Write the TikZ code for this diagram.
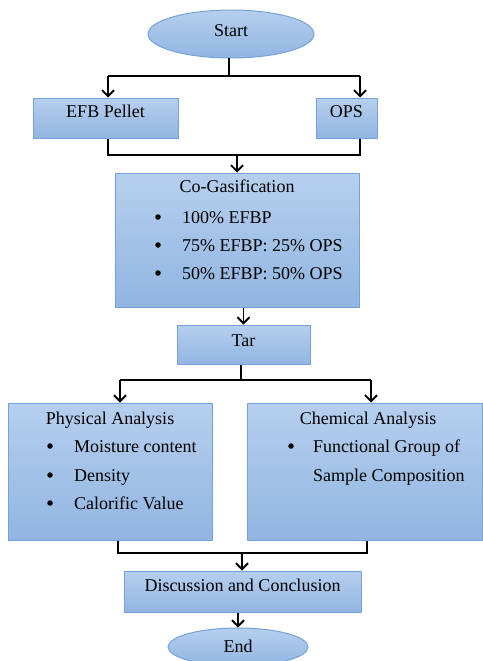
\documentclass[tikz,border=0pt]{standalone}
\usepackage{fontspec}
\setmainfont{Liberation Serif}
\usetikzlibrary{shapes.geometric,arrows.meta}
\definecolor{boxtop}{HTML}{B6CFEE}
\definecolor{boxbot}{HTML}{91B5E1}
\definecolor{boxline}{HTML}{74A3DA}
\tikzset{
  box/.style={draw=boxline, line width=1pt, top color=boxtop, bottom color=boxbot, inner sep=0pt},
  oval/.style={box, ellipse},
  txt/.style={inner sep=0pt, anchor=base, font=\fontsize{18}{21}\selectfont, text=black},
  item/.style={txt, anchor=base west},
  bul/.style={circle, fill=black, inner sep=0pt, minimum size=5.5pt},
  conn/.style={line width=1.8pt, black},
  arr/.style={conn, -{Straight Barb[length=6pt,width=12pt,line width=1.9pt]}},
}
\begin{document}
\begin{tikzpicture}[x=1pt,y=-1pt]
\useasboundingbox (0,0) rectangle (482,661);
% shapes
\node[oval, minimum width=166, minimum height=48] (start) at (231,34) {};
\node[box, minimum width=145, minimum height=40] (efb) at (105.5,118) {};
\node[box, minimum width=61, minimum height=40] (ops) at (346.5,118) {};
\node[box, minimum width=244, minimum height=134] (cogas) at (237,240) {};
\node[box, minimum width=133, minimum height=39] (tar) at (243.5,344.5) {};
\node[box, minimum width=204, minimum height=137] (phys) at (110,471.5) {};
\node[box, minimum width=235, minimum height=137] (chem) at (364.5,471.5) {};
\node[box, minimum width=237, minimum height=41] (disc) at (242.5,591.5) {};
\node[oval, minimum width=140, minimum height=38] (end) at (238,647) {};
% single texts
\node[txt] (startt) at (231,37) {Start};
\node[txt] (efbt) at (105.5,117.5) {EFB Pellet};
\node[txt] (opst) at (346.5,117.5) {OPS};
\node[txt] (tart) at (243.5,346) {Tar};
\node[txt] (disct) at (242.5,591.5) {Discussion and Conclusion};
\node[txt] (endt) at (238,652) {End};
% texts in co-gasification
\node[txt] (cgt) at (237,192.5) {Co-Gasification};
\node[bul] (cb1) at (158,217) {};
\node[bul] (cb2) at (158,245) {};
\node[bul] (cb3) at (158,273) {};
\node[item] (ci1) at (182,223) {100\% EFBP};
\node[item] (ci2) at (182,251) {75\% EFBP: 25\% OPS};
\node[item] (ci3) at (182,279) {50\% EFBP: 50\% OPS};
% physical analysis
\node[txt] (pt) at (110,424) {Physical Analysis};
\node[bul] (pb1) at (50,446) {};
\node[bul] (pb2) at (50,475) {};
\node[bul] (pb3) at (50,503) {};
\node[item] (pi1) at (74,452) {Moisture content};
\node[item] (pi2) at (74,481) {Density};
\node[item] (pi3) at (74,509) {Calorific Value};
% chemical analysis
\node[txt] (ct) at (368,424) {Chemical Analysis};
\node[bul] (chb1) at (291,446) {};
\node[item] (chi1) at (313,452) {Functional Group of};
\node[item] (chi2) at (313,481) {Sample Composition};
% junctions
\coordinate (j1) at (229,76);
\coordinate (j1l) at (108,76);
\coordinate (j1r) at (360,76);
\coordinate (j2l) at (108,155);
\coordinate (j2r) at (360,155);
\coordinate (j2) at (237,155);
\coordinate (j3) at (241,380);
\coordinate (j3l) at (120,380);
\coordinate (j3r) at (371,380);
\coordinate (j4l) at (118,553);
\coordinate (j4r) at (367,553);
\coordinate (j4) at (242,553);
% connectors
\draw[conn] (start.south -| j1) -- (j1);
\draw[conn] (j1l) -- (j1r);
\draw[arr] (j1l) -- (j1l |- efb.north);
\draw[arr] (j1r) -- (j1r |- ops.north);
\draw[conn] (j2l |- efb.south) -- (j2l) -- (j2r) -- (j2r |- ops.south);
\draw[arr] (j2) -- (j2 |- cogas.north);
\draw[arr] (cogas.south -| tar.north) -- (tar.north);
\draw[conn] (j3 |- tar.south) -- (j3);
\draw[conn] (j3l) -- (j3r);
\draw[arr] (j3l) -- (j3l |- phys.north);
\draw[arr] (j3r) -- (j3r |- chem.north);
\draw[conn] (j4l |- phys.south) -- (j4l) -- (j4r) -- (j4r |- chem.south);
\draw[arr] (j4) -- (j4 |- disc.north);
\draw[arr] (disc.south -| end.north) -- (end.north);
\end{tikzpicture}
\end{document}
